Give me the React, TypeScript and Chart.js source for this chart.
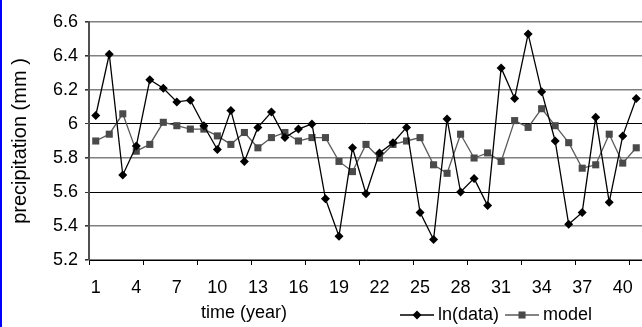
import { useEffect, useRef } from "react";
import { Chart, registerables } from "chart.js";

Chart.register(...registerables);

// Year index along the x axis
const years = [
  "1", "2", "3", "4", "5", "6", "7", "8", "9", "10",
  "11", "12", "13", "14", "15", "16", "17", "18", "19", "20",
  "21", "22", "23", "24", "25", "26", "27", "28", "29", "30",
  "31", "32", "33", "34", "35", "36", "37", "38", "39", "40", "41",
];

// Years that carry a visible label
const xTickLabels = ["1", "4", "7", "10", "13", "16", "19", "22", "25", "28", "31", "34", "37", "40"];

// Natural log of observed precipitation
const lnData = [
  6.05, 6.41, 5.70, 5.87, 6.26, 6.21, 6.13, 6.14, 5.99, 5.85,
  6.08, 5.78, 5.98, 6.07, 5.92, 5.97, 6.00, 5.56, 5.34, 5.86,
  5.59, 5.83, 5.89, 5.98, 5.48, 5.32, 6.03, 5.60, 5.68, 5.52,
  6.33, 6.15, 6.53, 6.19, 5.90, 5.41, 5.48, 6.04, 5.54, 5.93, 6.15,
];

// Fitted model values
const modelData = [
  5.90, 5.94, 6.06, 5.84, 5.88, 6.01, 5.99, 5.97, 5.97, 5.93,
  5.88, 5.95, 5.86, 5.92, 5.95, 5.90, 5.92, 5.92, 5.78, 5.72,
  5.88, 5.80, 5.88, 5.90, 5.92, 5.76, 5.71, 5.94, 5.80, 5.83,
  5.78, 6.02, 5.98, 6.09, 5.99, 5.89, 5.74, 5.76, 5.94, 5.77, 5.86,
];

// Value axis ticks
const yTickValues = [5.2, 5.4, 5.6, 5.8, 6, 6.2, 6.4, 6.6];

const xTitle = "time (year)";
const yTitle = "precipitation (mm )";

const FONT = "'Liberation Sans', Arial, Helvetica, sans-serif";

function drawMarker(ctx: CanvasRenderingContext2D, style: string, x: number, y: number, r: number, color: string) {
  ctx.save();
  ctx.fillStyle = color;
  ctx.beginPath();
  if (style === "rectRot") {
    ctx.moveTo(x - r, y);
    ctx.lineTo(x, y - r);
    ctx.lineTo(x + r, y);
    ctx.lineTo(x, y + r);
    ctx.closePath();
  } else {
    const s = Math.SQRT1_2 * r;
    ctx.rect(x - s, y - s, 2 * s, 2 * s);
  }
  ctx.fill();
  ctx.restore();
}

// Draws the x-axis title and the line+marker legend below the plot
const bottomText = {
  id: "bottomText",
  afterDraw(chart: any) {
    const { ctx, chartArea } = chart;
    ctx.save();
    ctx.font = `18px ${FONT}`;
    ctx.fillStyle = "#000";
    ctx.textBaseline = "middle";
    ctx.textAlign = "center";
    ctx.fillText(xTitle, chartArea.left + 155, chartArea.bottom + 53);

    const y = chartArea.bottom + 55;
    let x = chartArea.left + 311;
    ctx.textAlign = "left";
    chart.data.datasets.forEach((ds: any) => {
      const lineLen = 34;
      ctx.strokeStyle = ds.borderColor;
      ctx.lineWidth = ds.borderWidth;
      ctx.beginPath();
      ctx.moveTo(x, y);
      ctx.lineTo(x + lineLen, y);
      ctx.stroke();
      drawMarker(ctx, ds.pointStyle, x + lineLen / 2, y, ds.pointRadius, ds.pointBackgroundColor);
      ctx.fillStyle = "#000";
      ctx.fillText(ds.label, x + lineLen + 4, y);
      x += lineLen + 4 + ctx.measureText(ds.label).width + 6;
    });
    ctx.restore();
  },
};

const isDarkLine = (v: number) => Math.abs(v - 6) < 1e-6 || Math.abs(v - 5.6) < 1e-6;

export default function App() {
  const canvasRef = useRef<HTMLCanvasElement | null>(null);

  useEffect(() => {
    const canvas = canvasRef.current;
    if (!canvas) return;
    const chart = new Chart(canvas, {
      type: "line",
      data: {
        labels: years,
        datasets: [
          {
            label: "ln(data)",
            data: lnData,
            borderColor: "#000000",
            borderWidth: 1.3,
            pointStyle: "rectRot",
            pointRadius: 4.5,
            pointBackgroundColor: "#000000",
            pointBorderColor: "#000000",
            pointBorderWidth: 0,
            tension: 0,
          },
          {
            label: "model",
            data: modelData,
            borderColor: "#5a5a5a",
            borderWidth: 1.3,
            pointStyle: "rect",
            pointRadius: 5,
            pointBackgroundColor: "#4a4a4a",
            pointBorderColor: "#4a4a4a",
            pointBorderWidth: 0,
            tension: 0,
          },
        ],
      },
      options: {
        responsive: false,
        animation: false,
        devicePixelRatio: 1,
        layout: { padding: { top: 22, right: 17, bottom: 27, left: 0 } },
        plugins: {
          legend: { display: false },
          tooltip: { enabled: false },
        },
        scales: {
          x: {
            type: "category",
            offset: true,
            afterFit: (s: any) => {
              s.height = 40;
            },
            grid: {
              offset: true,
              drawOnChartArea: false,
              tickLength: 5,
              tickWidth: 1,
              color: "#000",
              tickColor: (c: any) => (c.index !== undefined && c.index % 4 === 0 ? "#000" : "rgba(0,0,0,0)"),
            },
            border: { color: "#000", width: 1 },
            ticks: {
              autoSkip: false,
              maxRotation: 0,
              padding: 12,
              color: "#000",
              font: { family: FONT, size: 18 },
              callback: (_v: any, i: number) => (xTickLabels.includes(years[i]) ? years[i] : ""),
            },
          },
          y: {
            min: 5.2,
            max: 6.6,
            afterBuildTicks: (s: any) => {
              s.ticks = yTickValues.map((v) => ({ value: v }));
            },
            afterFit: (s: any) => {
              s.width = 89;
            },
            grid: {
              color: (c: any) => (c.tick && isDarkLine(c.tick.value) ? "#000" : "#808080"),
              lineWidth: (c: any) => (c.tick && isDarkLine(c.tick.value) ? 1 : 1.6),
              tickColor: "#333",
              tickLength: 4,
            },
            border: { color: "#505050", width: 2 },
            ticks: {
              padding: 7,
              color: "#000",
              font: { family: FONT, size: 18 },
              callback: (v: any) => String(Math.round(Number(v) * 10) / 10),
            },
            title: {
              display: true,
              text: yTitle,
              color: "#000",
              font: { family: FONT, size: 20 },
              padding: { top: 8, bottom: 0 },
            },
          },
        },
      },
      plugins: [bottomText],
    });
    return () => chart.destroy();
  }, []);

  return (
    <div
      style={{
        position: "fixed",
        left: 0,
        top: 0,
        width: 642,
        height: 327,
        overflow: "hidden",
        background: "#fff",
      }}
    >
      <canvas ref={canvasRef} width={660} height={327} style={{ display: "block" }} />
      <div style={{ position: "absolute", left: 0, top: 0, width: 2, height: 327, background: "#0000ff" }} />
    </div>
  );
}
